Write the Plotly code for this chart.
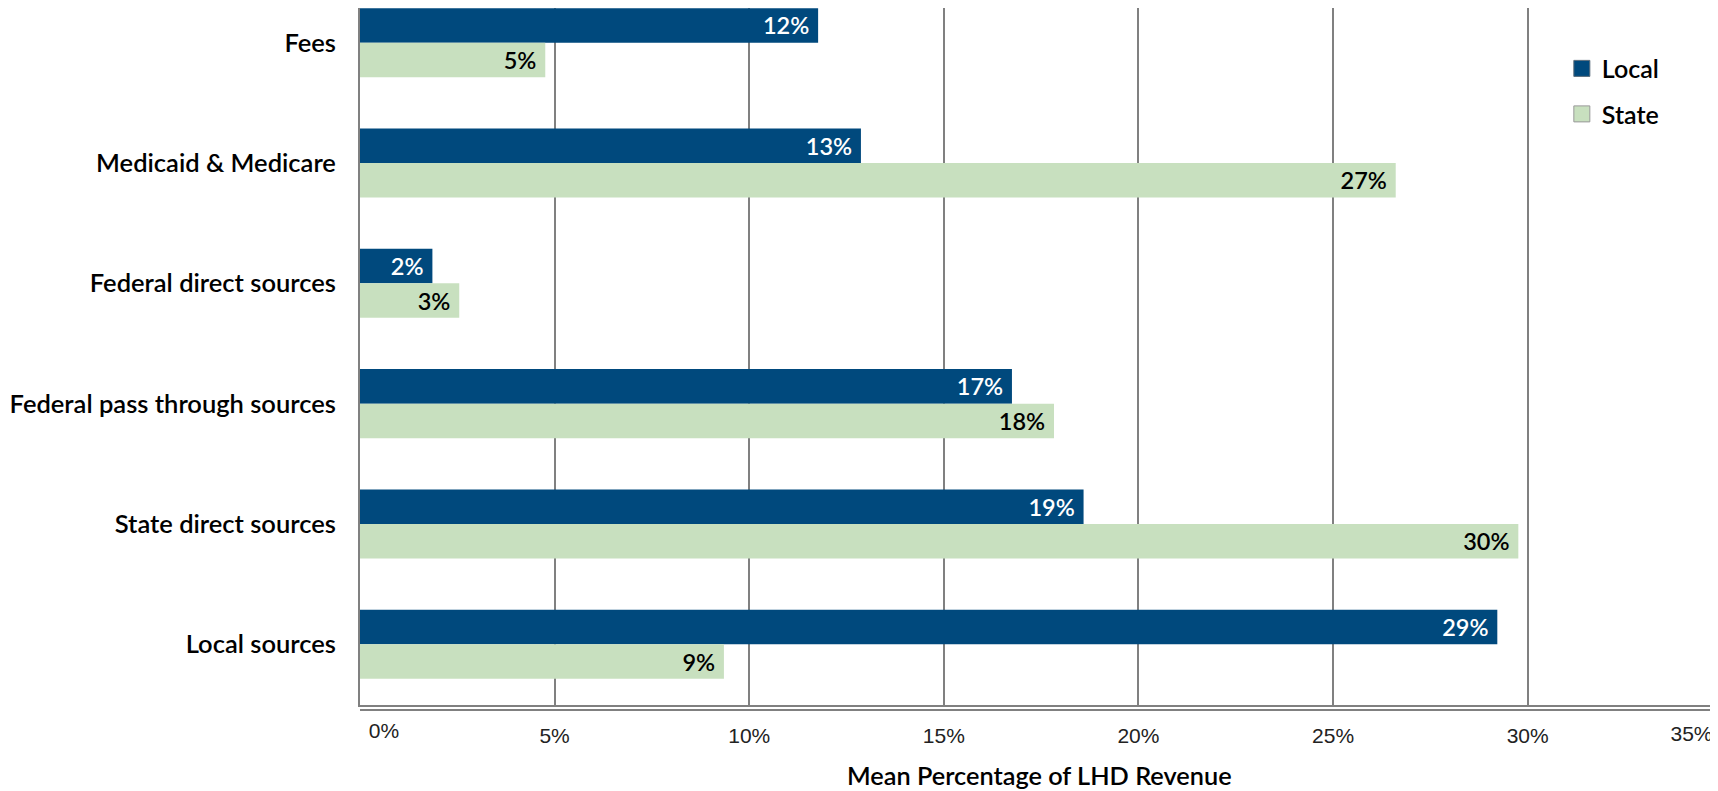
import plotly.graph_objects as go

# ---- data ----
CATEGORIES = ["Fees", "Medicaid & Medicare", "Federal direct sources",
              "Federal pass through sources", "State direct sources", "Local sources"]
LOCAL = [11.77, 12.87, 1.86, 16.75, 18.59, 29.22]
STATE = [4.76, 26.61, 2.55, 17.83, 29.76, 9.35]
SERIES_NAMES = ["Local", "State"]
MAIN_TICKS = [5, 10, 15, 20, 25, 30]
MAIN_TICK_TEXT = ["5%", "10%", "15%", "20%", "25%", "30%"]
FIRST_TICK, FIRST_TICK_TEXT = 0, "0%"
LAST_TICK, LAST_TICK_TEXT = 35, "35%"
X_TITLE = "Mean Percentage of LHD Revenue"

# ---- style ----
C_LOCAL = "#00497D"
C_STATE = "#C8E0BF"
GRID = "#808080"
BOLD_FONT = "Lato"
TICK_FONT = "Liberation Sans"
X_MAX = 34.89
# the page body adds an 8px margin, so the figure is 8px smaller than the window
W, H = 1710, 783
ML, MT, MB = 352, 0, 86
PLOT_H = H - MT - MB

fig = go.Figure()
fig.add_trace(go.Bar(
    y=CATEGORIES, x=LOCAL, orientation="h", name=SERIES_NAMES[0],
    marker=dict(color=C_LOCAL, line=dict(width=0)),
    texttemplate="%{x:.0f}%\u00a0", textposition="inside", insidetextanchor="end",
    textfont=dict(family=BOLD_FONT, size=23.5, color="white", weight=600),
    showlegend=False, cliponaxis=False))
fig.add_trace(go.Bar(
    y=CATEGORIES, x=STATE, orientation="h", name=SERIES_NAMES[1],
    marker=dict(color=C_STATE, line=dict(width=0)),
    texttemplate="%{x:.0f}%\u00a0", textposition="inside", insidetextanchor="end",
    textfont=dict(family=BOLD_FONT, size=23.5, color="black", weight=600),
    showlegend=False, cliponaxis=False))

# legend entries (larger square swatches)
for name, col, lc in [(SERIES_NAMES[0], C_LOCAL, "#5a6b7a"), (SERIES_NAMES[1], C_STATE, "#999999")]:
    fig.add_trace(go.Scatter(
        x=[None], y=[None], mode="markers", name=name, legendgroup=name,
        marker=dict(symbol="square", size=18, color=col, line=dict(color=lc, width=1))))

fig.update_layout(
    width=W, height=H,
    margin=dict(l=ML, r=0, t=MT, b=MB, autoexpand=False),
    paper_bgcolor="white", plot_bgcolor="white",
    barmode="group", bargap=0.426, bargroupgap=0,
    uniformtext=dict(mode=False),
    legend=dict(x=0.885, xanchor="left", y=0.946, yanchor="top",
                traceorder="grouped", tracegroupgap=10,
                font=dict(family=BOLD_FONT, size=25, color="black", weight=600),
                bgcolor="rgba(0,0,0,0)"),
    xaxis=dict(range=[0, X_MAX], tickmode="array", tickvals=MAIN_TICKS, ticktext=MAIN_TICK_TEXT,
               automargin=False,
               showgrid=True, gridcolor=GRID, gridwidth=2, zeroline=False,
               showline=True, linecolor=GRID, linewidth=2, mirror=True,
               ticks="", ticklabelstandoff=11,
               tickfont=dict(family=TICK_FONT, size=21, color="#222")),
    xaxis2=dict(overlaying="x", anchor="y", side="bottom", range=[0, X_MAX], automargin=False,
                tickmode="array", tickvals=[FIRST_TICK], ticktext=[FIRST_TICK_TEXT],
                showgrid=False, zeroline=False, showline=False, ticks="",
                ticklabelstandoff=11, ticklabelshift=24,
                tickfont=dict(family=TICK_FONT, size=21, color="#222")),
    xaxis3=dict(overlaying="x", anchor="y", side="bottom", range=[0, LAST_TICK], automargin=False,
                tickmode="array", tickvals=[LAST_TICK], ticktext=[LAST_TICK_TEXT],
                showgrid=False, zeroline=False, showline=False,
                ticks="outside", ticklen=4, tickcolor="rgba(0,0,0,0)",
                ticklabelposition="outside left", ticklabelstandoff=10, ticklabelshift=-5,
                tickfont=dict(family=TICK_FONT, size=21, color="#222")),
    yaxis=dict(type="category", categoryorder="array", categoryarray=CATEGORIES,
               range=[5.505, -0.2885], showgrid=False, zeroline=False, automargin=False,
               showline=True, linecolor=GRID, linewidth=2,
               ticks="", ticklabelstandoff=17,
               tickfont=dict(family=BOLD_FONT, size=25.5, color="black", weight=600)),
    shapes=[dict(type="line", xref="paper", yref="paper", x0=0, x1=1,
                 y0=-5 / PLOT_H, y1=-5 / PLOT_H, line=dict(color=GRID, width=2))],
    annotations=[dict(text=X_TITLE, xref="paper", yref="paper", x=0.5, y=-70 / PLOT_H,
                      xanchor="center", yanchor="middle", showarrow=False,
                      font=dict(family=BOLD_FONT, size=25.3, color="black", weight=600))],
)
# attach dummy traces to the overlay axes so they render
fig.add_trace(go.Scatter(x=[None], y=[None], xaxis="x2", showlegend=False, hoverinfo="skip"))
fig.add_trace(go.Scatter(x=[None], y=[None], xaxis="x3", showlegend=False, hoverinfo="skip"))

fig.write_html("out.html")
